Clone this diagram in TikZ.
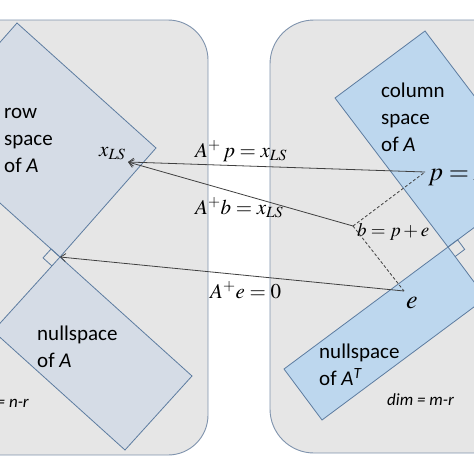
\documentclass[tikz,border=0pt]{standalone}
\usepackage{mathptmx}
\usepackage{fontspec}
\setmainfont{Carlito}
\usetikzlibrary{arrows.meta}
\definecolor{panelfill}{HTML}{E6E6E6}
\definecolor{panelline}{HTML}{7F93AD}
\definecolor{rowfill}{HTML}{D5DCE6}
\definecolor{colfill}{HTML}{BDD7EE}
\definecolor{rectline}{HTML}{5D7CA0}
\definecolor{arrowline}{HTML}{404040}
\tikzset{
  panel/.style={fill=panelfill, draw=panelline, line width=0.9pt},
  rowbox/.style={fill=rowfill, draw=rectline, line width=0.8pt},
  colbox/.style={fill=colfill, draw=rectline, line width=0.8pt},
  rightmark/.style={draw=rectline, line width=0.8pt},
  conn/.style={draw=arrowline, line width=0.8pt, -{Straight Barb[length=5pt,width=8pt]}},
  dashconn/.style={draw=arrowline, line width=0.8pt, dash pattern=on 3pt off 2pt},
  lbl/.style={inner sep=0pt, align=left, font=\fontsize{21}{27}\selectfont},
  dimlbl/.style={inner sep=0pt, font=\fontsize{17}{20}\selectfont\itshape},
  mlbl/.style={inner sep=0pt, font=\fontsize{21}{25}\selectfont},
  bigmlbl/.style={inner sep=0pt, font=\fontsize{26}{30}\selectfont},
  smlbl/.style={inner sep=0pt, font=\fontsize{19}{22}\selectfont}
}
\begin{document}
\begin{tikzpicture}[x=1pt,y=-1pt]
\path[use as bounding box] (0,0) rectangle (474,474);
\clip (0,0) rectangle (474,474);
% panels
\draw[panel, rounded corners=40pt] (-80,20) rectangle (208,455);
\draw[panel, rounded corners=44pt] (270,20) rectangle (560,453);
% left subspaces
\coordinate (V) at (60,257);
\draw[rowbox] (17,23) -- (156,148) -- (V) -- (-79,132) -- cycle;
\draw[rowbox] (V) -- (192,376) -- (125,450) -- (-7,331) -- cycle;
\draw[rightmark] (V) -- ++(-8.9,-8.0) -- ++(-8.1,8.9) -- ++(8.9,8.0);
% right subspaces
\coordinate (V2) at (448,247);
\draw[colbox] (425,31) -- (538,180) -- (V2) -- (335,98) -- cycle;
\draw[colbox] (V2) -- (486,298) -- (322,420) -- (284,369) -- cycle;
\draw[rightmark] (V2) -- ++(9.6,-7.2) -- ++(7.1,9.6) -- ++(-9.6,7.2);
% text labels
\node[lbl, anchor=west] (rowtxt) at (4,140) {row\\space\\of \textit{A}};
\node[lbl, anchor=west] (coltxt) at (381,117) {column\\space\\of \textit{A}};
\node[lbl, anchor=west] (nulltxt) at (37,347) {nullspace\\of \textit{A}};
\node[lbl, anchor=west] (lnulltxt) at (319,365) {nullspace\\of \textit{A}\textsuperscript{\textit{T}}};
\node[dimlbl, anchor=west] (dimr) at (387,400) {dim = m-r};
\node[dimlbl, anchor=east] (diml) at (29,402) {dim = n-r};
% points
\coordinate (xls) at (128,162);
\coordinate (pp) at (425,172);
\coordinate (bb) at (353,226);
\coordinate (ee) at (404,291);
% math labels
\node[mlbl, anchor=base west] (xlab) at (99,156) {$x_{LS}$};
\node[mlbl, anchor=base west] (eq1) at (195,157) {$A^{+}\,p = x_{LS}$};
\node[mlbl, anchor=base west] (eq2) at (195,214) {$A^{+}b = x_{LS}$};
\node[mlbl, anchor=base west] (eq3) at (210,298) {$A^{+}e = 0$};
\node[bigmlbl, anchor=base west] (plab) at (428,180) {$p = Ax_{LS}$};
\node[smlbl, anchor=base west] (blab) at (357,236) {$b = p + e$};
\node[bigmlbl, anchor=base west] (elab) at (406,308) {$e$};
% connectors
\draw[dashconn] (bb) -- (pp);
\draw[dashconn] (bb) -- (ee);
\draw[conn] (pp) -- (xls);
\draw[conn] (bb) -- (xls);
\draw[conn] (ee) -- (V);
\end{tikzpicture}
\end{document}
